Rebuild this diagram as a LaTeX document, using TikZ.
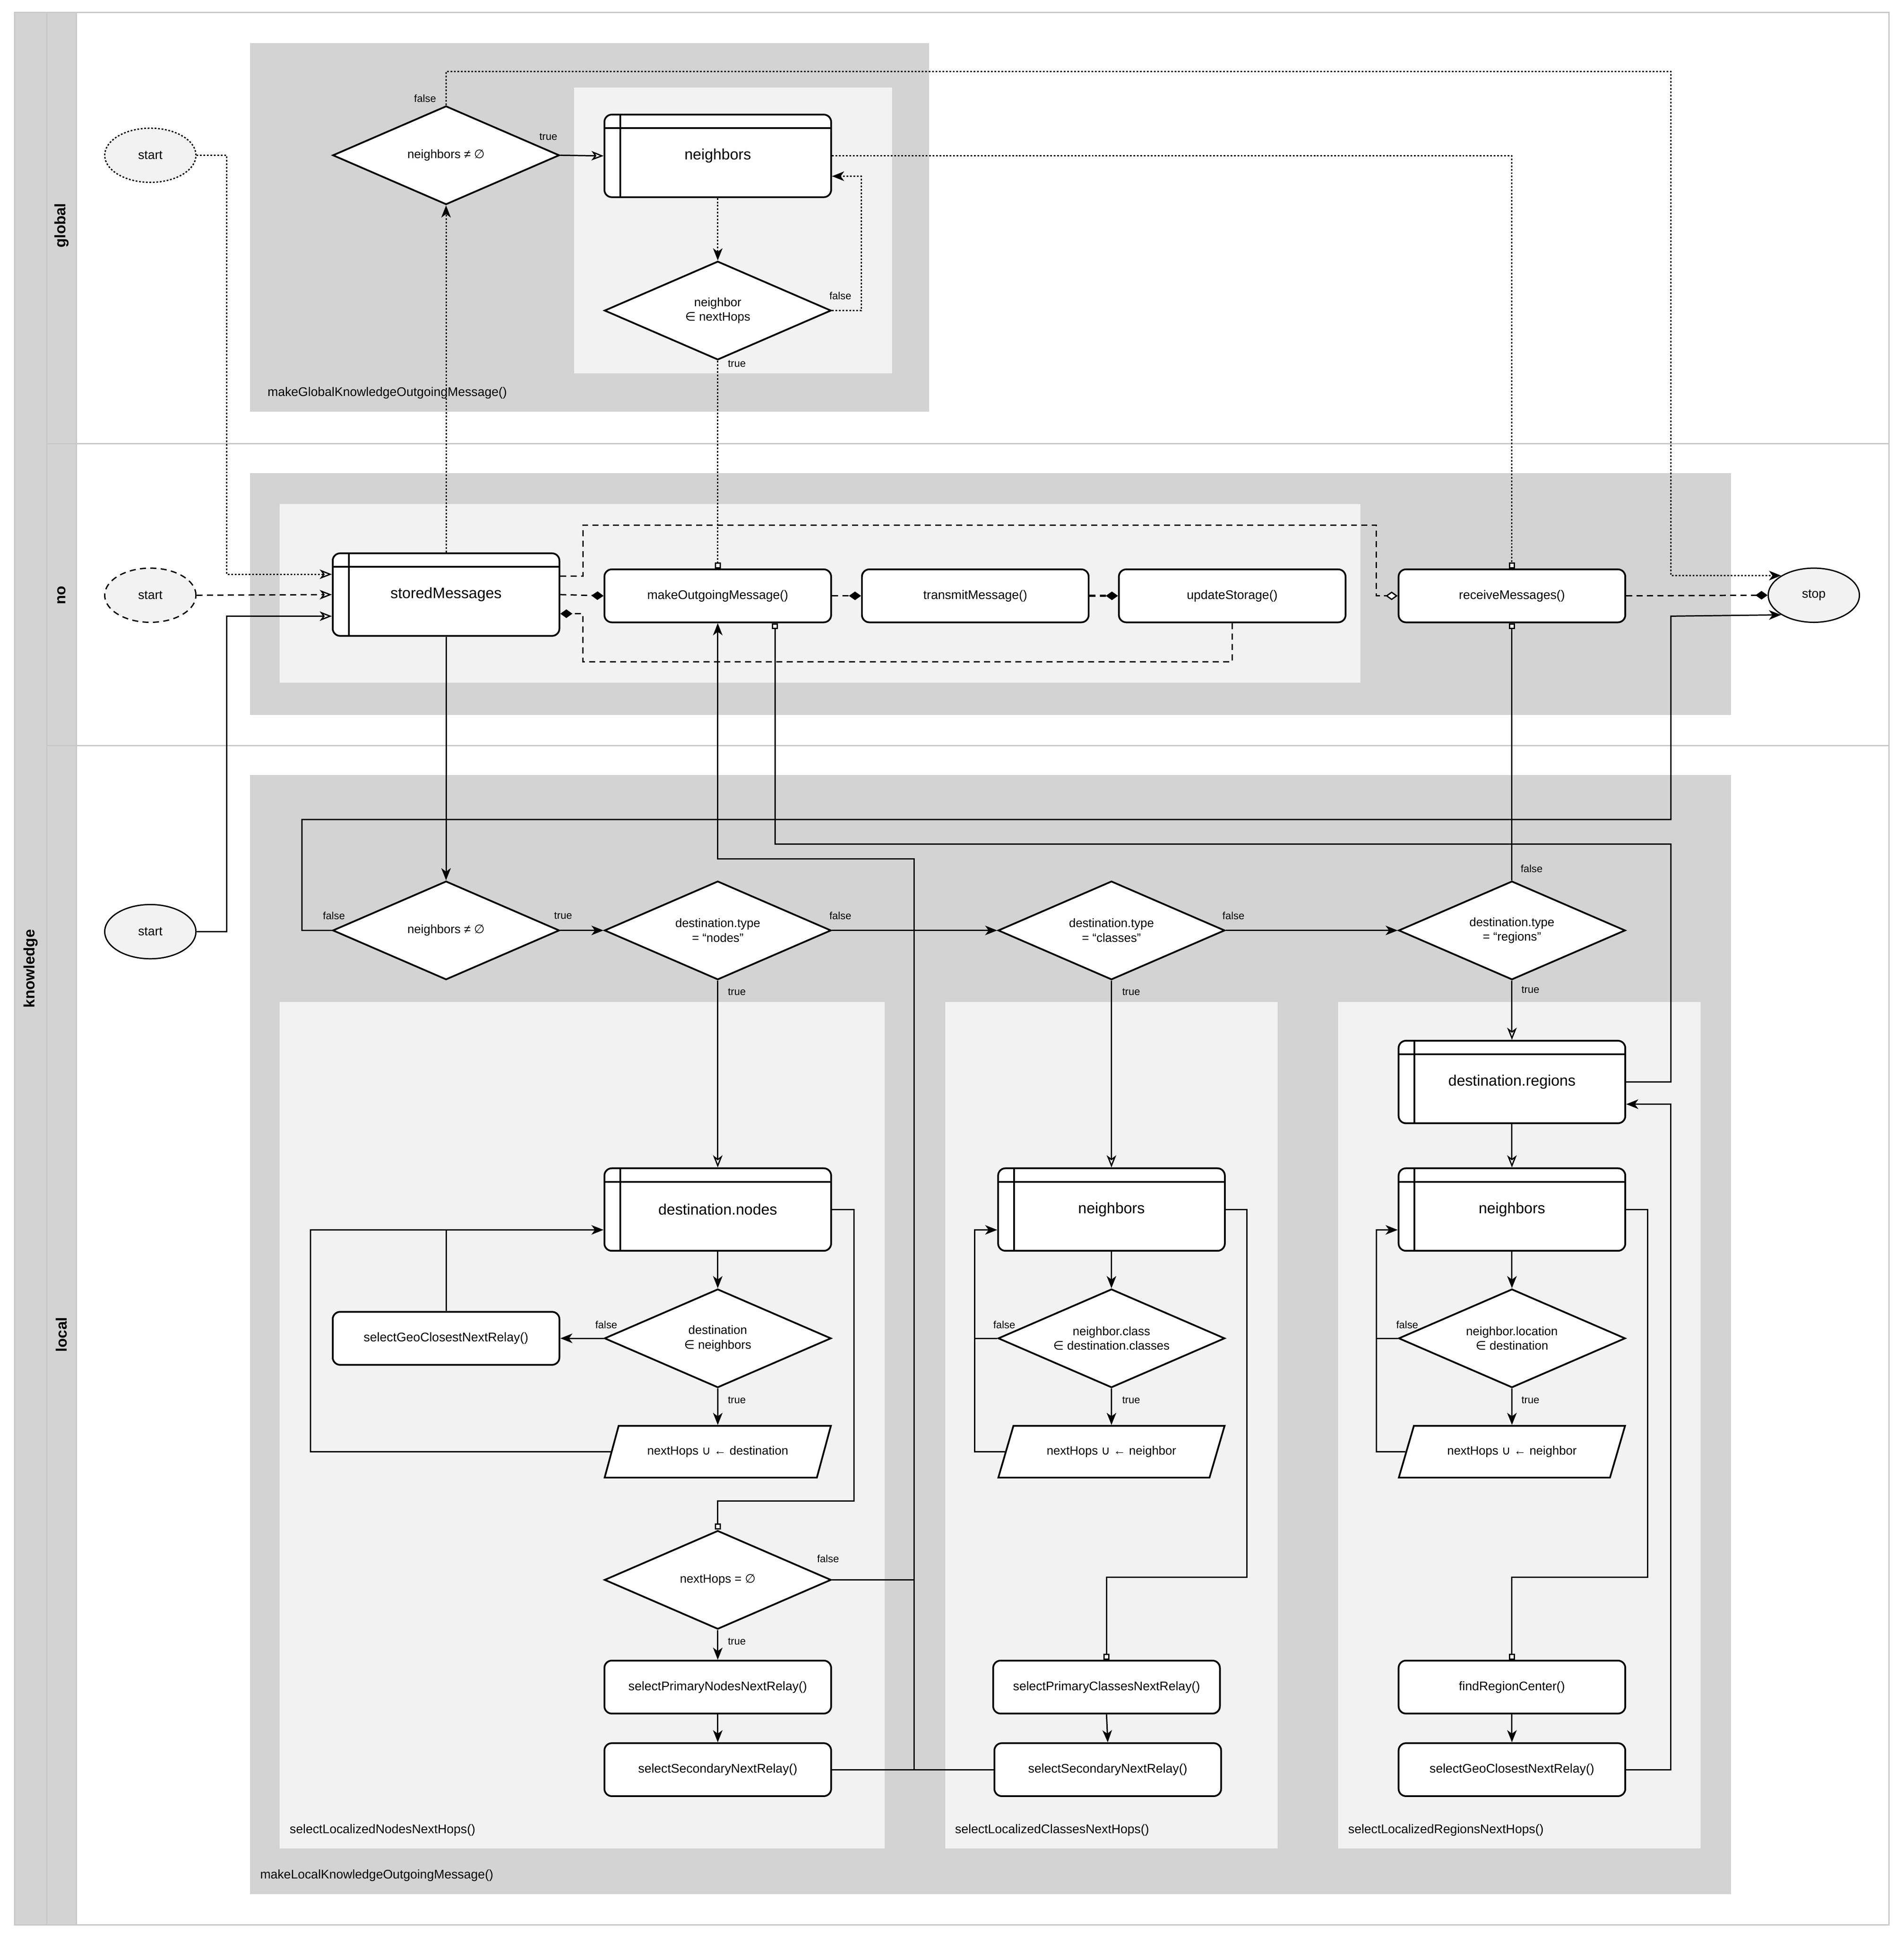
\documentclass[tikz,border=0pt]{standalone}
\usepackage{fontspec}
\setmainfont{Liberation Sans}
\newfontfamily\dv{DejaVu Sans}
\usetikzlibrary{shapes.geometric,arrows.meta}
\newdimen\pu \pu=0.05cm
\newcommand\fbig{\fontsize{17.5}{20}\selectfont}
\newcommand\fmed{\fontsize{14.5}{17}\selectfont}
\newcommand\fdia{\fontsize{14}{17}\selectfont}
\newcommand\fsm{\fontsize{12}{14}\selectfont}
\definecolor{cont}{HTML}{D3D3D3}
\definecolor{inner}{HTML}{F2F2F2}
\definecolor{lanel}{HTML}{C8C8C8}
\tikzset{
  box/.style={draw,line width=2pt,fill=white,rounded corners=6\pu,minimum width=184\pu,inner sep=0},
  proc/.style={box,minimum height=43\pu,font=\fmed},
  tbl/.style={box,minimum height=67\pu,font=\fbig,
    path picture={\draw[line width=2pt] ([yshift=-11\pu]path picture bounding box.north west) -- ([yshift=-11\pu]path picture bounding box.north east);
      \draw[line width=2pt] ([xshift=13\pu]path picture bounding box.north west) -- ([xshift=13\pu]path picture bounding box.south west);}},
  dec/.style={draw,line width=2pt,fill=white,diamond,aspect=2.3,minimum width=184\pu,minimum height=80\pu,inner sep=0,align=center,font=\fdia},
  para/.style={draw,line width=2pt,fill=white,trapezium,trapezium left angle=48.6,trapezium right angle=131.4,trapezium stretches=true,minimum width=184\pu,minimum height=42\pu,inner sep=0,font=\fdia},
  term/.style={draw,line width=1.5pt,fill=inner,ellipse,minimum width=74\pu,minimum height=44\pu,inner sep=0,font=\fmed},
  conn/.style={line width=1.5pt},
  dotl/.style={line width=1.5pt,dash pattern=on 2pt off 2pt},
  dashl/.style={line width=1.5pt,dash pattern=on 7pt off 5pt},
  fa/.style={-{Stealth[length=14pt,width=11pt,inset=4pt]}},
  oa/.style={-{Stealth[length=14pt,width=11pt,inset=4pt,fill=white]}},
  sq/.style={-{Square[length=7pt,width=7pt,fill=white]}},
  dia/.style={-{Diamond[length=14pt,width=10pt]}},
  odia/.style={-{Diamond[length=14pt,width=10pt,fill=white]}},
  lbl/.style={font=\fsm,inner sep=0},
  clbl/.style={font=\fmed,inner sep=0,anchor=west},
  lane/.style={font=\fbig\bfseries,rotate=90,inner sep=0}
}
\begin{document}
\begin{tikzpicture}[x=0.05cm,y=-0.05cm]
\fill[white] (0,0) rectangle (1545,1571);
\useasboundingbox (0,0) rectangle (1545,1571);
% pool and lanes
\fill[cont] (12,10) rectangle (62,1562);
\draw[lanel,line width=1.5pt] (12,10) rectangle (1533,1562);
\draw[lanel,line width=1.5pt] (38,10) -- (38,1562) (62,10) -- (62,1562);
\draw[lanel,line width=1.5pt] (38,360) -- (1533,360) (38,605) -- (1533,605);
\node[lane] (lk) at (25,786) {knowledge};
\node[lane] (lg) at (50,183) {global};
\node[lane] (ln) at (50,483) {no};
\node[lane] (ll) at (50,1083) {local};
% containers
\fill[cont] (203,35) rectangle (754,334);
\fill[inner] (466,71) rectangle (724,303);
\node[clbl] (cg) at (217,319) {makeGlobalKnowledgeOutgoingMessage()};
\fill[cont] (203,384) rectangle (1405,580);
\fill[inner] (227,409) rectangle (1104,554);
\fill[cont] (203,629) rectangle (1405,1537);
\node[clbl] (cl) at (211,1522) {makeLocalKnowledgeOutgoingMessage()};
\fill[inner] (227,813) rectangle (718,1500);
\fill[inner] (767,813) rectangle (1037,1500);
\fill[inner] (1086,813) rectangle (1380,1500);
\node[clbl] (c1) at (235,1485) {selectLocalizedNodesNextHops()};
\node[clbl] (c2) at (775,1485) {selectLocalizedClassesNextHops()};
\node[clbl] (c3) at (1094,1485) {selectLocalizedRegionsNextHops()};
% global nodes
\node[term,dotl] (gstart) at (122,126) {start};
\node[dec] (gdec) at (362,126) {neighbors ≠ {\dv ∅}};
\node[tbl] (gnb) at (582.5,126.5) {neighbors};
\node[dec] (gnd) at (582.5,252) {neighbor\\{\dv ∈} nextHops};
% no nodes
\node[term,dashl] (nstart) at (122,483) {start};
\node[tbl] (stored) at (362,482.5) {storedMessages};
\node[proc] (mom) at (582.5,483.5) {makeOutgoingMessage()};
\node[proc] (tm) at (791.5,483.5) {transmitMessage()};
\node[proc] (us) at (1000,483.5) {updateStorage()};
\node[proc] (rm) at (1227,483.5) {receiveMessages()};
\node[term] (stop) at (1472,483) {stop};
% local nodes
\node[term] (lstart) at (122,756) {start};
\node[dec] (ldec) at (362,755) {neighbors ≠ {\dv ∅}};
\node[dec] (dnodes) at (582.5,755) {destination.type\\= “nodes”};
\node[dec] (dclasses) at (902,755) {destination.type\\= “classes”};
\node[dec] (dregions) at (1227,755) {destination.type\\= “regions”};
\node[tbl] (tnodes) at (582.5,981.5) {destination.nodes};
\node[dec] (dn2) at (582.5,1086) {destination\\{\dv ∈} neighbors};
\node[proc] (sgc1) at (362,1086) {selectGeoClosestNextRelay()};
\node[para] (pn) at (582.5,1178) {nextHops {\dv ∪} ← destination};
\node[dec] (nhe) at (582.5,1282) {nextHops = {\dv ∅}};
\node[proc] (spn) at (582.5,1369) {selectPrimaryNodesNextRelay()};
\node[proc] (ssn) at (582.5,1436) {selectSecondaryNextRelay()};
\node[tbl] (tcls) at (902,981.5) {neighbors};
\node[dec] (dc2) at (902,1086) {neighbor.class\\{\dv ∈} destination.classes};
\node[para] (pc) at (902,1178) {nextHops {\dv ∪} ← neighbor};
\node[proc] (spc) at (898,1369) {selectPrimaryClassesNextRelay()};
\node[proc] (ssc) at (899,1436) {selectSecondaryNextRelay()};
\node[tbl] (treg) at (1227,878) {destination.regions};
\node[tbl] (tnr) at (1227,981.5) {neighbors};
\node[dec] (dr2) at (1227,1086) {neighbor.location\\{\dv ∈} destination};
\node[para] (pr) at (1227,1178) {nextHops {\dv ∪} ← neighbor};
\node[proc] (frc) at (1227,1369) {findRegionCenter()};
\node[proc] (sgc2) at (1227,1436) {selectGeoClosestNextRelay()};
% global connectors
\draw[dotl,oa] (gstart.east) -- (184,126) -- (184,466) -- ([yshift=16.5\pu]stored.west);
\draw[dotl,fa] (stored.north) -- (gdec.south);
\draw[conn,oa] (gdec.east) -- (gnb.west);
\draw[dotl,fa] (gnb.south) -- (gnd.north);
\draw[dotl,fa] (gnd.east) -- (699,252) -- (699,143) -- ([yshift=-16.5\pu]gnb.east);
\draw[dotl,sq] (gnd.south) -- (mom.north);
\draw[dotl,fa] (gdec.north) -- (362,58) -- (1356,58) -- (1356,467) -- (stop.north west);
\draw[dotl,sq] (gnb.east) -- (1227,126.5) -- (rm.north);
% no connectors
\draw[dashl,oa] (nstart.east) -- (stored.west);
\draw[conn,oa] (lstart.east) -- (184,756) -- (184,500) -- ([yshift=-17.5\pu]stored.west);
\draw[dashl,dia] (stored.east) -- (mom.west);
\draw[dashl,dia] (mom.east) -- (tm.west);
\draw[dashl,dia,line width=2.5pt] (tm.east) -- (us.west);
\draw[dashl,dia] (rm.east) -- (stop.west);
\draw[dashl,odia] ([yshift=15\pu]stored.east) -- (473,467.5) -- (473,426) -- (1117,426) -- (1117,483.5) -- (rm.west);
\draw[dashl,dia] (us.south) -- (1000,537) -- (473,537) -- (473,498) -- ([yshift=-15.5\pu]stored.east);
% local connectors
\draw[conn,fa] (stored.south) -- (ldec.north);
\draw[conn,fa] (ldec.west) -- (245,755) -- (245,665) -- (1356,665) -- (1356,500) -- (stop.south west);
\draw[conn,fa] (ldec.east) -- (dnodes.west);
\draw[conn,fa] (dnodes.east) -- (dclasses.west);
\draw[conn,fa] (dclasses.east) -- (dregions.west);
\draw[conn,sq] (dregions.north) -- (rm.south);
\draw[conn,oa] (dnodes.south) -- (tnodes.north);
\draw[conn,oa] (dclasses.south) -- (tcls.north);
\draw[conn,oa] (dregions.south) -- (treg.north);
\draw[conn,oa] (treg.south) -- (tnr.north);
% nodes panel
\draw[conn,fa] (tnodes.south) -- (dn2.north);
\draw[conn,fa] (dn2.west) -- (sgc1.east);
\draw[conn] (sgc1.north) -- (362,998);
\draw[conn,fa] (dn2.south) -- (pn.north);
\draw[conn,fa] (pn.west) -- (252,1178) -- (252,998) -- ([yshift=-16.5\pu]tnodes.west);
\draw[conn,sq] (tnodes.east) -- (693,981.5) -- (693,1218) -- (582.5,1218) -- (nhe.north);
\draw[conn,fa] (nhe.south) -- (spn.north);
\draw[conn,fa] (spn.south) -- (ssn.north);
\draw[conn] (nhe.east) -- (742,1282);
\draw[conn] (ssn.east) -- (ssc.west);
\coordinate (j1) at (742,1436);
\draw[conn,fa] (j1) -- (742,697) -- (582.5,697) -- (mom.south);
\draw[conn,{Square[length=7pt,width=7pt,fill=white]}-] ([xshift=46.5\pu]mom.south) -- (629,685) -- (1356,685) -- (1356,878) -- (treg.east);
% classes panel
\draw[conn,fa] (tcls.south) -- (dc2.north);
\draw[conn,fa] (dc2.south) -- (pc.north);
\draw[conn] (dc2.west) -- (791,1086);
\draw[conn,fa] (pc.west) -- (791,1178) -- (791,998) -- ([yshift=-16.5\pu]tcls.west);
\draw[conn,sq] (tcls.east) -- (1012,981.5) -- (1012,1280) -- (898,1280) -- (spc.north);
\draw[conn,fa] (spc.south) -- (ssc.north);
% regions panel
\draw[conn,fa] (tnr.south) -- (dr2.north);
\draw[conn,fa] (dr2.south) -- (pr.north);
\draw[conn] (dr2.west) -- (1117,1086);
\draw[conn,fa] (pr.west) -- (1117,1178) -- (1117,998) -- ([yshift=-16.5\pu]tnr.west);
\draw[conn,sq] (tnr.east) -- (1337,981.5) -- (1337,1280) -- (1227,1280) -- (frc.north);
\draw[conn,fa] (frc.south) -- (sgc2.north);
\draw[conn,fa] (sgc2.east) -- (1356,1436) -- (1356,896) -- ([yshift=-18\pu]treg.east);
% edge labels
\node[lbl] (l1) at (345,80) {false};
\node[lbl] (l2) at (445,111) {true};
\node[lbl] (l3) at (682,240) {false};
\node[lbl] (l4) at (598,295) {true};
\node[lbl] (l5) at (271,743) {false};
\node[lbl] (l6) at (457,743) {true};
\node[lbl] (l7) at (682,743) {false};
\node[lbl] (l8) at (598,805) {true};
\node[lbl] (l9) at (1001,743) {false};
\node[lbl] (l10) at (918,805) {true};
\node[lbl] (l11) at (1243,705) {false};
\node[lbl] (l12) at (1242,803) {true};
\node[lbl] (l13) at (492,1075) {false};
\node[lbl] (l14) at (598,1136) {true};
\node[lbl] (l15) at (672,1265) {false};
\node[lbl] (l16) at (598,1332) {true};
\node[lbl] (l17) at (815,1075) {false};
\node[lbl] (l18) at (918,1136) {true};
\node[lbl] (l19) at (1142,1075) {false};
\node[lbl] (l20) at (1242,1136) {true};
\end{tikzpicture}
\end{document}
